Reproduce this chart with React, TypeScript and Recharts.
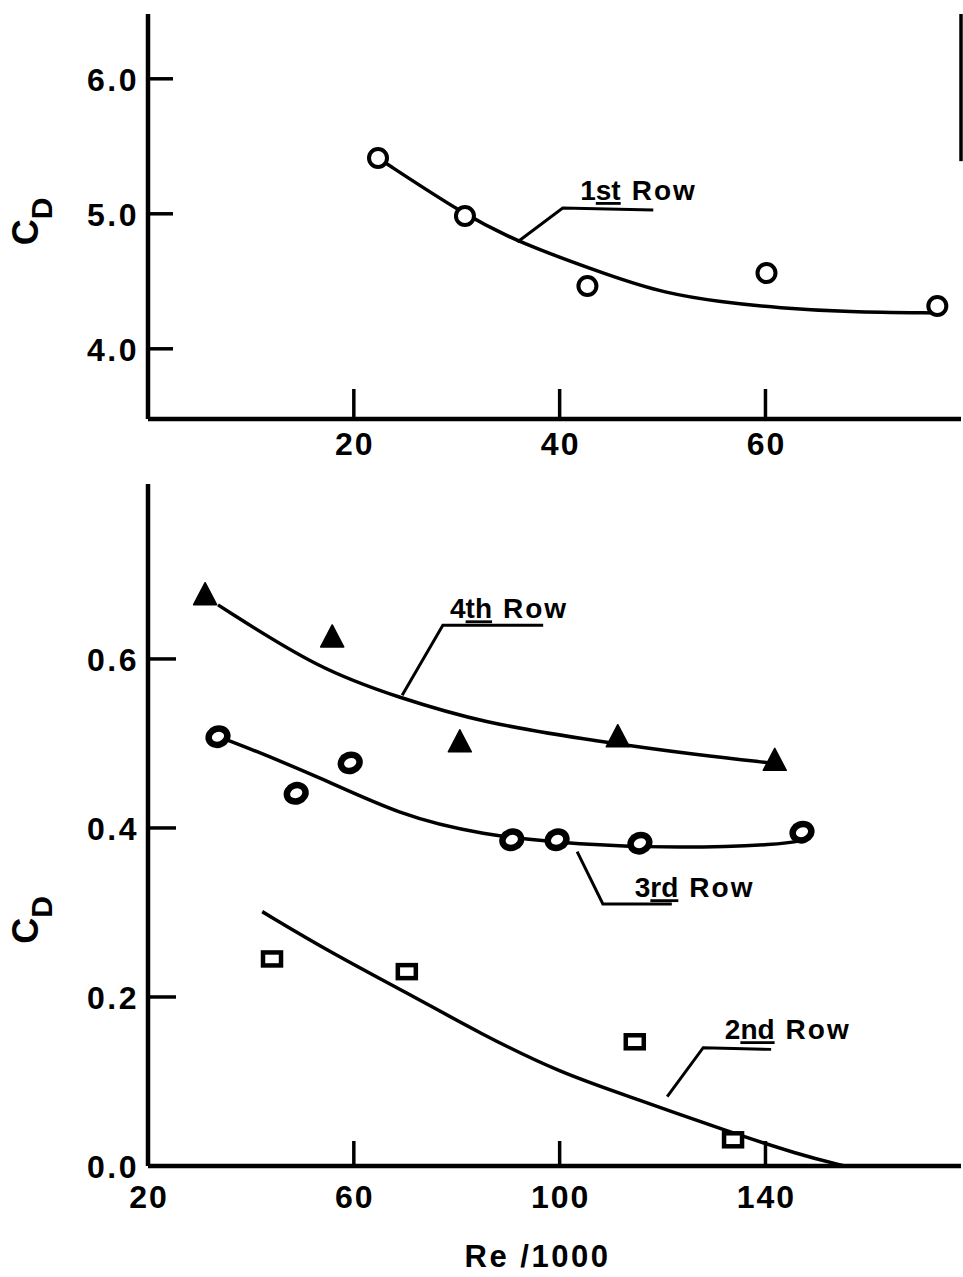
import React from 'react';
import { ComposedChart, Line, Scatter, XAxis, YAxis, ReferenceLine } from 'recharts';

const FONT = '"Liberation Sans", Arial, sans-serif';

// ---------- Top panel : 1st row ----------
const topReTicks = [20, 40, 60];
const topCdTicks = [4.0, 5.0, 6.0];
const topReDomain = [0, 79];
const topCdDomain = [3.48, 6.48];

const row1Re = [22.35, 30.8, 42.7, 60.1, 76.7];
const row1Cd = [5.413, 4.984, 4.465, 4.561, 4.317];
const row1CurveRe = [22.35, 30.8, 35.9, 45.2, 50.2, 55.6, 61.4, 67.9, 76.7];
const row1CurveCd = [5.413, 4.99, 4.791, 4.532, 4.413, 4.347, 4.302, 4.273, 4.265];
const row1LeaderRe = [35.9, 40.3, 49.1];
const row1LeaderCd = [4.791, 5.043, 5.028];
const row1LabelAt = [42.0, 5.102];
const topRightBorderRe = [79, 79];
const topRightBorderCd = [6.48, 5.39];

// ---------- Bottom panel : 2nd, 3rd, 4th rows ----------
const botReTicks = [20, 60, 100, 140];
const botCdTicks = [0.0, 0.2, 0.4, 0.6];
const botReDomain = [20, 178];
const botCdDomain = [0, 0.807];

const row4Re = [31.1, 55.8, 80.6, 111.3, 141.8];
const row4Cd = [0.676, 0.626, 0.502, 0.508, 0.48];
const row4CurveRe = [33.6, 53.4, 69.0, 84.5, 107.8, 127.3, 140.9];
const row4CurveCd = [0.664, 0.587, 0.554, 0.525, 0.502, 0.486, 0.477];
const row4LeaderRe = [69.4, 77.3, 96.8];
const row4LeaderCd = [0.557, 0.64, 0.64];
const row4LabelAt = [78.7, 0.648];

const row3Re = [33.6, 48.8, 59.3, 90.7, 99.5, 115.6, 147.1];
const row3Cd = [0.508, 0.441, 0.477, 0.386, 0.386, 0.382, 0.395];
const row3CurveRe = [33.6, 36.5, 53.4, 69.0, 84.5, 103.9, 123.4, 142.8, 147.7];
const row3CurveCd = [0.508, 0.502, 0.46, 0.415, 0.392, 0.38, 0.376, 0.38, 0.386];
const row3LeaderRe = [103.4, 108.4, 121.8];
const row3LeaderCd = [0.372, 0.31, 0.31];
const row3LabelAt = [114.6, 0.318];

const row2Re = [44.1, 70.3, 114.6, 133.7];
const row2Cd = [0.245, 0.23, 0.147, 0.031];
const row2CurveRe = [42.2, 55.4, 70.3, 84.5, 100.1, 115.6, 131.2, 146.7, 155.4];
const row2CurveCd = [0.301, 0.253, 0.205, 0.157, 0.11, 0.078, 0.044, 0.013, 0.0];
const row2LeaderRe = [120.9, 127.9, 141.1];
const row2LeaderCd = [0.082, 0.14, 0.138];
const row2LabelAt = [132.1, 0.15];

const pts = (xs: number[], ys: number[]) => xs.map((x, i) => ({ x, y: ys[i] }));

const Y_MARGIN = 11;
const X_MARGIN = 10;

const makeYTick = (len: number) => (props: any) => {
  const { x, y, payload } = props;
  const ax = x + Y_MARGIN;
  return (
    <g>
      <line x1={ax} y1={y} x2={ax + len} y2={y} stroke="#000" strokeWidth={3.5} />
      <text x={x + 2} y={y + 12} textAnchor="end" fontFamily={FONT} fontWeight="bold" fontSize={32} letterSpacing={2.5} fill="#000">
        {Number(payload.value).toFixed(1)}
      </text>
    </g>
  );
};

const makeXTick = (len: number, dyLabel: number) => (props: any) => {
  const { x, y, payload } = props;
  const ay = y - X_MARGIN;
  return (
    <g>
      <line x1={x} y1={ay} x2={x} y2={ay - len} stroke="#000" strokeWidth={3.5} />
      <text x={x + 1} y={ay + dyLabel} textAnchor="middle" fontFamily={FONT} fontWeight="bold" fontSize={32} letterSpacing={2} fill="#000">
        {payload.value}
      </text>
    </g>
  );
};

const cdLabel = (dy: number) => (props: any) => {
  const vb = props.viewBox || { x: 48, y: 0, width: 100, height: 0 };
  const cx = vb.x - 10;
  const cy = vb.y + vb.height / 2 + dy;
  return (
    <text transform={`translate(${cx},${cy}) rotate(-90)`} textAnchor="middle" fontFamily={FONT} fontWeight="bold" fill="#000">
      <tspan fontSize={36}>C</tspan>
      <tspan fontSize={30} dy={14}>D</tspan>
    </text>
  );
};

const reLabel = (props: any) => {
  const vb = props.viewBox || { x: 148, y: 0, width: 813, height: 60 };
  return (
    <text x={vb.x + vb.width / 2 - 17} y={vb.y + 101} textAnchor="middle" fontFamily={FONT} fontWeight="bold" fontSize={31} letterSpacing={2.5} fill="#000">
      Re /1000
    </text>
  );
};

const OpenCircle = (p: any) => <circle cx={p.cx} cy={p.cy} r={9} fill="#fff" stroke="#000" strokeWidth={4} />;
const RingCircle = (p: any) => (
  <ellipse cx={p.cx} cy={p.cy} rx={9.5} ry={8} fill="#fff" stroke="#000" strokeWidth={6.5} transform={`rotate(-20 ${p.cx} ${p.cy})`} />
);
const Triangle = (p: any) => (
  <path d={`M${p.cx},${p.cy - 12} L${p.cx + 11.5},${p.cy + 10} L${p.cx - 11.5},${p.cy + 10} Z`} fill="#000" stroke="#000" strokeWidth={1.5} strokeLinejoin="round" />
);
const Square = (p: any) => <rect x={p.cx - 9} y={p.cy - 6.5} width={18} height={13} fill="#fff" stroke="#000" strokeWidth={4.5} />;

const makeRowLabel = (num: string, suf: string) => (p: any) => (
  <text x={p.cx} y={p.cy} fontFamily={FONT} fontWeight="bold" fontSize={28} fill="#000">
    <tspan>{num}</tspan>
    <tspan style={{ textDecoration: 'underline' }}>{suf}</tspan>
    <tspan dx={11} letterSpacing={2}>Row</tspan>
  </text>
);

const curve = (xs: number[], ys: number[], key: string) => (
  <Line key={key} data={pts(xs, ys)} dataKey="y" type="basis" stroke="#000" strokeWidth={3.5} dot={false} activeDot={false} isAnimationActive={false} legendType="none" />
);
const leader = (xs: number[], ys: number[], key: string) => (
  <Line key={key} data={pts(xs, ys)} dataKey="y" type="linear" stroke="#000" strokeWidth={3} dot={false} activeDot={false} isAnimationActive={false} legendType="none" />
);

const axisLine = { stroke: '#000', strokeWidth: 4.5 };
const frameLine = { stroke: '#000', strokeWidth: 4 };

export default function App() {
  return (
    <div style={{ position: 'absolute', left: 0, top: 0, width: 963, height: 1277, background: '#fff' }}>
      <div style={{ position: 'absolute', left: 0, top: 0 }}>
        <ComposedChart width={963} height={470} margin={{ top: 14, right: 2, bottom: 10, left: 48 }}>
          <XAxis dataKey="x" type="number" domain={topReDomain} allowDataOverflow ticks={topReTicks} interval={0}
            tickSize={0} tickMargin={X_MARGIN} tickLine={false} axisLine={axisLine} height={41} tick={makeXTick(30, 36)} />
          <XAxis xAxisId="top" orientation="top" dataKey="x" type="number" domain={topReDomain} allowDataOverflow
            tick={false} tickLine={false} axisLine={frameLine} height={0} />
          <YAxis dataKey="y" type="number" domain={topCdDomain} allowDataOverflow ticks={topCdTicks} interval={0}
            tickSize={0} tickMargin={Y_MARGIN} tickLine={false} axisLine={axisLine} width={100} tick={makeYTick(25)}
            label={{ content: cdLabel(5) }} />
          <ReferenceLine segment={pts(topRightBorderRe, topRightBorderCd)} stroke="#000" strokeWidth={3.5} ifOverflow="visible" />
          {curve(row1CurveRe, row1CurveCd, 'c1')}
          {leader(row1LeaderRe, row1LeaderCd, 'l1')}
          <Scatter data={pts(row1Re, row1Cd)} shape={OpenCircle} isAnimationActive={false} legendType="none" />
          <Scatter data={[{ x: row1LabelAt[0], y: row1LabelAt[1] }]} shape={makeRowLabel('1', 'st')} isAnimationActive={false} legendType="none" />
        </ComposedChart>
      </div>
      <div style={{ position: 'absolute', left: 0, top: 470 }}>
        <ComposedChart width={963} height={807} margin={{ top: 14, right: 2, bottom: 51, left: 48 }}>
          <XAxis dataKey="x" type="number" domain={botReDomain} allowDataOverflow ticks={botReTicks} interval={0}
            tickSize={0} tickMargin={X_MARGIN} tickLine={false} axisLine={axisLine} height={60} tick={makeXTick(25, 42)}
            label={{ content: reLabel }} />
          <XAxis xAxisId="top" orientation="top" dataKey="x" type="number" domain={botReDomain} allowDataOverflow
            tick={false} tickLine={false} axisLine={frameLine} height={0} />
          <YAxis dataKey="y" type="number" domain={botCdDomain} allowDataOverflow ticks={botCdTicks} interval={0}
            tickSize={0} tickMargin={Y_MARGIN} tickLine={false} axisLine={axisLine} width={100} tick={makeYTick(28)}
            label={{ content: cdLabel(95) }} />
          {curve(row4CurveRe, row4CurveCd, 'c4')}
          {curve(row3CurveRe, row3CurveCd, 'c3')}
          {curve(row2CurveRe, row2CurveCd, 'c2')}
          {leader(row4LeaderRe, row4LeaderCd, 'l4')}
          {leader(row3LeaderRe, row3LeaderCd, 'l3')}
          {leader(row2LeaderRe, row2LeaderCd, 'l2')}
          <Scatter data={pts(row4Re, row4Cd)} shape={Triangle} isAnimationActive={false} legendType="none" />
          <Scatter data={pts(row3Re, row3Cd)} shape={RingCircle} isAnimationActive={false} legendType="none" />
          <Scatter data={pts(row2Re, row2Cd)} shape={Square} isAnimationActive={false} legendType="none" />
          <Scatter data={[{ x: row4LabelAt[0], y: row4LabelAt[1] }]} shape={makeRowLabel('4', 'th')} isAnimationActive={false} legendType="none" />
          <Scatter data={[{ x: row3LabelAt[0], y: row3LabelAt[1] }]} shape={makeRowLabel('3', 'rd')} isAnimationActive={false} legendType="none" />
          <Scatter data={[{ x: row2LabelAt[0], y: row2LabelAt[1] }]} shape={makeRowLabel('2', 'nd')} isAnimationActive={false} legendType="none" />
        </ComposedChart>
      </div>
    </div>
  );
}
